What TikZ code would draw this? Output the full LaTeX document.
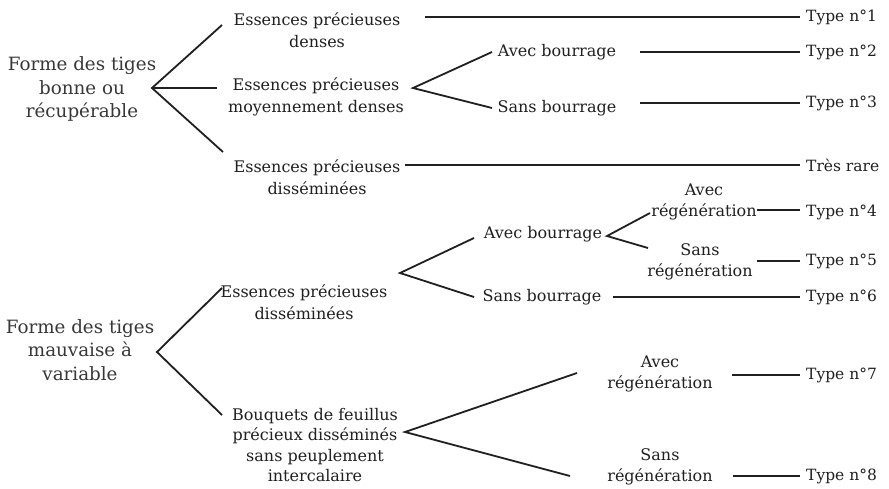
\documentclass[tikz,border=0pt]{standalone}
\usepackage{fontspec}
\setmainfont{DejaVu Serif}
\definecolor{ink}{HTML}{202020}
\definecolor{inkl}{HTML}{383838}
\begin{document}
\begin{tikzpicture}[x=1pt,y=-1pt,
  lbl/.style={inner sep=0pt,align=center,text=ink,font=\fontsize{16}{21.5}\selectfont},
  leftlbl/.style={inner sep=0pt,align=center,text=inkl,font=\fontsize{18.3}{23.5}\selectfont},
  res/.style={anchor=west,inner sep=0pt,text=ink,font=\fontsize{15.5}{21}\selectfont},
  ln/.style={draw=ink,line width=1.8pt}]
\useasboundingbox[fill=white] (0,0) rectangle (889,488);

% left roots
\node[leftlbl] (A1) at (82,89) {Forme des tiges\\bonne ou\\récupérable};
\node[leftlbl] (A2) at (80,350) {Forme des tiges\\mauvaise à\\variable};

% second level
\node[lbl] (B1) at (317,30) {Essences précieuses\\denses};
\node[lbl] (B2) at (316,97) {Essences précieuses\\moyennement denses};
\node[lbl] (B3) at (317,177) {Essences précieuses\\disséminées};
\node[lbl] (B4) at (304,302) {Essences précieuses\\disséminées};
\node[lbl,font=\fontsize{16}{20.5}\selectfont] (B5) at (315,445) {Bouquets de feuillus\\précieux disséminés\\sans peuplement\\intercalaire};

% third level
\node[lbl] (C1) at (557,52) {Avec bourrage};
\node[lbl] (C2) at (557,108) {Sans bourrage};
\node[lbl] (C3) at (543,234) {Avec bourrage};
\node[lbl] (C4) at (542,297) {Sans bourrage};

% fourth level
\node[lbl] (D1) at (704,202) {Avec\\régénération};
\node[lbl] (D2) at (700,262) {Sans\\régénération};
\node[lbl] (D3) at (660,374) {Avec\\régénération};
\node[lbl] (D4) at (660,467) {Sans\\régénération};

% results
\node[res] (T1) at (806,17) {Type n°1};
\node[res] (T2) at (806,52) {Type n°2};
\node[res] (T3) at (806,103) {Type n°3};
\node[res] (TR) at (806,165) {Très rare};
\node[res] (T4) at (806,212) {Type n°4};
\node[res] (T5) at (806,261) {Type n°5};
\node[res] (T6) at (806,297) {Type n°6};
\node[res] (T7) at (806,375) {Type n°7};
\node[res] (T8) at (806,476) {Type n°8};

% fork apexes and arm ends
\coordinate (F1) at (152,88);
\coordinate (F1a) at (222,25);
\coordinate (F1b) at (217,88);
\coordinate (F1c) at (223,152);
\coordinate (F2) at (413,88);
\coordinate (F2a) at (492,52);
\coordinate (F2b) at (492,108);
\coordinate (F3) at (157,352);
\coordinate (F3a) at (222,288);
\coordinate (F3b) at (222,415);
\coordinate (F4) at (400,273);
\coordinate (F4a) at (474,238);
\coordinate (F4b) at (474,297);
\coordinate (F5) at (607,236);
\coordinate (F5a) at (650,213);
\coordinate (F5b) at (648,248);
\coordinate (F6) at (405,432);
\coordinate (F6a) at (577,373);
\coordinate (F6b) at (570,476);

\draw[ln] (F1a) -- (F1) -- (F1c);
\draw[ln] (F1) -- (F1b);
\draw[ln] (F2a) -- (F2) -- (F2b);
\draw[ln] (F3a) -- (F3) -- (F3b);
\draw[ln] (F4a) -- (F4) -- (F4b);
\draw[ln] (F5a) -- (F5) -- (F5b);
\draw[ln] (F6a) -- (F6) -- (F6b);

% horizontal connectors
\coordinate (S1) at (425,17);
\coordinate (S2) at (640,52);
\coordinate (S3) at (640,103);
\coordinate (SR) at (405,165);
\coordinate (S4) at (757,210);
\coordinate (S5) at (757,261);
\coordinate (S6) at (613,297);
\coordinate (S7) at (732,375);
\coordinate (S8) at (733,476);
\draw[ln] (S1) -- ([xshift=-6pt]T1.west);
\draw[ln] (S2) -- ([xshift=-6pt]T2.west);
\draw[ln] (S3) -- ([xshift=-6pt]T3.west);
\draw[ln] (SR) -- ([xshift=-6pt]TR.west);
\draw[ln] (S4) -- ([xshift=-6pt,yshift=2pt]T4.west);
\draw[ln] (S5) -- ([xshift=-6pt]T5.west);
\draw[ln] (S6) -- ([xshift=-6pt]T6.west);
\draw[ln] (S7) -- ([xshift=-6pt]T7.west);
\draw[ln] (S8) -- ([xshift=-6pt]T8.west);
\end{tikzpicture}
\end{document}
